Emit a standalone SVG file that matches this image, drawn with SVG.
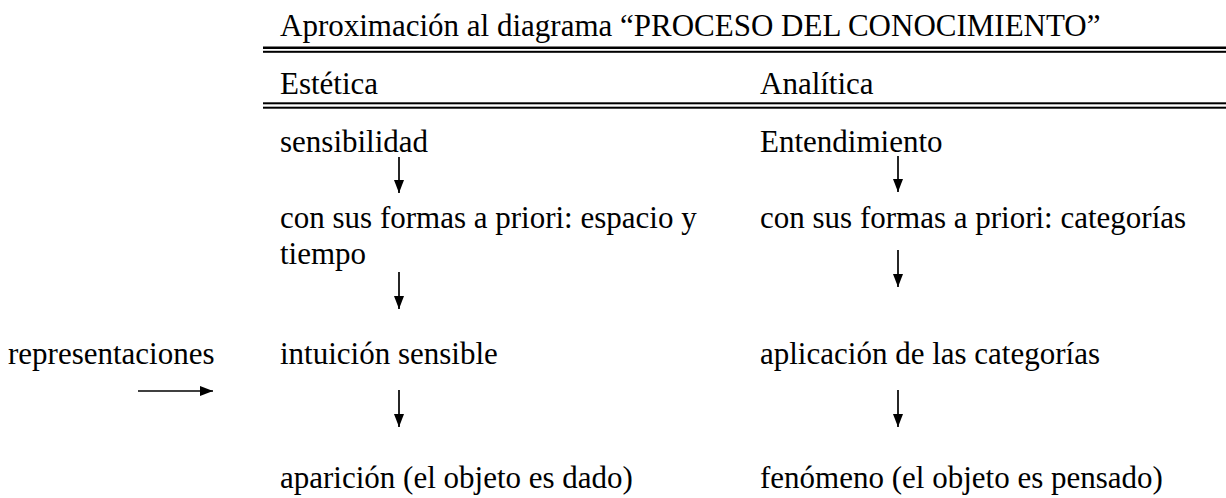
<svg xmlns="http://www.w3.org/2000/svg" width="1226" height="498" viewBox="0 0 1226 498">
<defs>
<style>
text { font-family: "Liberation Serif", "Times New Roman", serif; font-size: 31px; fill: #000; }
.rule { fill: #000; }
.conn line { stroke: #000; stroke-width: 1.7; }
</style>
<marker id="ah" viewBox="0 0 13 10" refX="13" refY="5" markerWidth="13" markerHeight="10" markerUnits="userSpaceOnUse" orient="auto">
<path d="M0,0 L13,5 L0,10 Z" fill="#000"/>
</marker>
</defs>
<rect width="1226" height="498" fill="#fff"/>
<g id="title">
<text x="280" y="36">Aproximación al diagrama “PROCESO DEL CONOCIMIENTO”</text>
<rect class="rule" x="263" y="46.5" width="963" height="2.5"/>
<rect class="rule" x="263" y="50.8" width="963" height="2"/>
</g>
<g id="header">
<text x="280" y="94">Estética</text>
<text x="760" y="94">Analítica</text>
<rect class="rule" x="263" y="102.3" width="963" height="2"/>
<rect class="rule" x="263" y="106.7" width="963" height="2"/>
</g>
<g id="sensibilidad"><text x="280" y="152">sensibilidad</text></g>
<g id="entendimiento"><text x="760" y="152">Entendimiento</text></g>
<g id="formas-espacio"><text x="280" y="228">con sus formas a priori: espacio y</text><text x="280" y="264">tiempo</text></g>
<g id="formas-categorias"><text x="760" y="228">con sus formas a priori: categorías</text></g>
<g id="representaciones"><text x="8" y="364">representaciones</text></g>
<g id="intuicion"><text x="280" y="364">intuición sensible</text></g>
<g id="aplicacion"><text x="760" y="364">aplicación de las categorías</text></g>
<g id="aparicion"><text x="280" y="488">aparición (el objeto es dado)</text></g>
<g id="fenomeno"><text x="760" y="488">fenómeno (el objeto es pensado)</text></g>
<g class="conn" id="connectors">
<line x1="399" y1="157" x2="399" y2="193" marker-end="url(#ah)"/>
<line x1="898" y1="156" x2="898" y2="192" marker-end="url(#ah)"/>
<line x1="399" y1="272" x2="399" y2="309" marker-end="url(#ah)"/>
<line x1="898" y1="250" x2="898" y2="287" marker-end="url(#ah)"/>
<line x1="138" y1="391" x2="213" y2="391" marker-end="url(#ah)"/>
<line x1="399" y1="390" x2="399" y2="427" marker-end="url(#ah)"/>
<line x1="898" y1="390" x2="898" y2="427" marker-end="url(#ah)"/>
</g>
</svg>
